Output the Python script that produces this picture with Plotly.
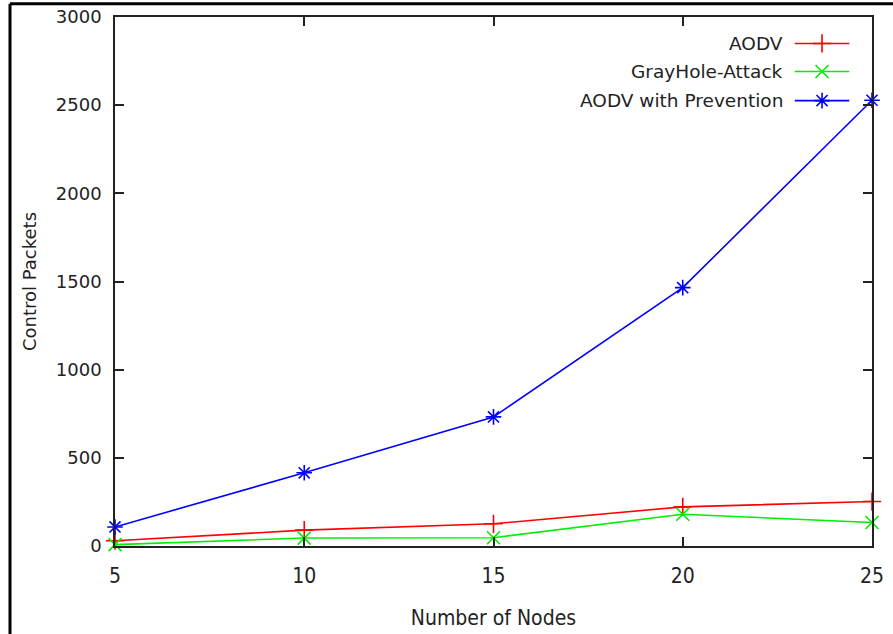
import plotly.graph_objects as go

nodes = [5, 10, 15, 20, 25]
aodv = [30, 90, 126, 222, 252]
grayhole = [8, 45, 47, 180, 133]
prevention = [108, 415, 732, 1465, 2528]

series_names = ["AODV", "GrayHole-Attack", "AODV with Prevention"]
series_colors = ["#ff0000", "#00ee00", "#0000ff"]
series_symbols = ["cross-thin", "x-thin", "asterisk"]
series_values = [aodv, grayhole, prevention]

y_ticks = [0, 500, 1000, 1500, 2000, 2500, 3000]
x_ticks = [5, 10, 15, 20, 25]

fig = go.Figure()
for name, vals, col, sym in zip(series_names, series_values, series_colors, series_symbols):
    fig.add_trace(go.Scatter(
        x=nodes, y=vals, mode="lines+markers", name=name,
        line=dict(color=col, width=1.6),
        marker=dict(symbol=sym, size=13, color=col, line=dict(color=col, width=1.6)),
        cliponaxis=False, showlegend=False,
    ))

# custom legend (text left of sample, gnuplot style) on an overlay axis
legend_y = [0.95, 0.897, 0.842]
for name, col, sym, ly in zip(series_names, series_colors, series_symbols, legend_y):
    fig.add_trace(go.Scatter(
        x=[0.898, 0.970], y=[ly, ly], xaxis="x2", yaxis="y2", mode="lines",
        line=dict(color=col, width=1.6), showlegend=False, hoverinfo="skip",
    ))
    fig.add_trace(go.Scatter(
        x=[0.934], y=[ly], xaxis="x2", yaxis="y2", mode="markers",
        marker=dict(symbol=sym, size=13, color=col, line=dict(color=col, width=1.6)),
        showlegend=False, hoverinfo="skip",
    ))
    fig.add_annotation(x=0.885, y=ly, xref="paper", yref="paper", text=name,
                       showarrow=False, xanchor="right", yanchor="middle",
                       font=dict(family="DejaVu Sans", size=18.5, color="#222222"))

axis_common = dict(showline=True, linecolor="#222222", linewidth=1.5, mirror="ticks",
                   ticks="inside", ticklen=9, tickcolor="#222222", tickwidth=1.5,
                   showgrid=False, zeroline=False, automargin=False)

cond = "DejaVu Sans Condensed, Liberation Sans Narrow, DejaVu Sans"

fig.update_layout(
    width=893, height=634,
    margin=dict(l=115, r=21, t=17, b=88),
    paper_bgcolor="white", plot_bgcolor="white",
    xaxis=dict(range=[5, 25], tickvals=x_ticks, ticklabelstandoff=10,
               tickfont=dict(family=cond, size=21, color="#222222"),
               title=dict(text="Number of Nodes", standoff=23,
                          font=dict(family=cond, size=21, color="#222222")),
               **axis_common),
    yaxis=dict(range=[0, 3000], tickvals=y_ticks, ticklabelstandoff=8,
               tickfont=dict(family="DejaVu Sans", size=18, color="#222222"),
               title=dict(text="Control Packets", standoff=15,
                          font=dict(family="DejaVu Sans", size=18, color="#222222")),
               **axis_common),
    xaxis2=dict(range=[0, 1], overlaying="x", visible=False, fixedrange=True),
    yaxis2=dict(range=[0, 1], overlaying="y", visible=False, fixedrange=True),
    shapes=[
        dict(type="line", xref="paper", yref="paper", x0=-0.1387, x1=-0.1387, y0=-0.2, y1=1.025,
             line=dict(color="black", width=3)),
        dict(type="line", xref="paper", yref="paper", x0=-0.1387, x1=1.05, y0=1.025, y1=1.025,
             line=dict(color="black", width=3)),
    ],
)

fig.write_html("out.html", config={"displayModeBar": False},
               post_script="document.body.style.margin='0';document.body.style.overflow='hidden';")
